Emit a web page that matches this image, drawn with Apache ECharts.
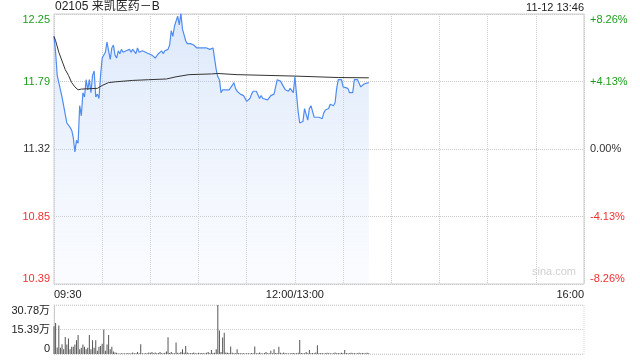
<!DOCTYPE html>
<html><head><meta charset="utf-8">
<script src="https://cdn.jsdelivr.net/npm/echarts@6/dist/echarts.min.js"></script>
<style>html,body{margin:0;padding:0;background:#fff}#c{width:640px;height:360px}</style>
</head><body><div id="c"></div>
<script>
var titleText = '02105 来凯医药－B';
var timeText = '11-12 13:46';
var prevClose = 11.32;
var pctRange = 8.26;
var priceTicks = ['12.25', '11.79', '11.32', '10.85', '10.39'];
var pctTicks = ['+8.26%', '+4.13%', '0.00%', '-4.13%', '-8.26%'];
var tickColors = ['#1e9e1e', '#1e9e1e', '#333333', '#f03030', '#f03030'];
var timeLabels = {0: '09:30', 150: '12:00/13:00', 330: '16:00'};
var volTicks = ['0', '15.39万', '30.78万'];
var volMax = 30.78;

var priceMin = [0,1,2,3,4,5,6,7,8,9,10,11,12,13,14,15,16,17,18,19,20,21,22,23,24,25,26,27,28,29,30,31,32,33,34,35,36,37,38,39,40,41,42,43,44,45,46,47,48,49,50,51,52,53,55,57,59,61,62,63,64,65,66,67,68,69,71,72,73,74,75,76,77,78,79,80,81,82,83,85,87,89,91,93,95,97,99,100,101,102,103,104,105,106,107,108,109,110,111,112,113,114,115,116,118,119,120,121,122,123,124,126,127,128,129,130,131,133,134,135,137,138,139,140,141,142,143,144,145,146,147,148,149,150,151,152,153,154,155,156,157,158,159,160,161,162,163,165,167,168,169,170,171,172,174,175,176,177,178,179,180,181,183,184,186,187,189,190,191,192,193,194,196];
var priceVal = [12.10,11.99,11.83,11.78,11.73,11.68,11.62,11.56,11.50,11.49,11.47,11.45,11.40,11.30,11.38,11.36,11.62,11.55,11.71,11.68,11.80,11.73,11.80,11.71,11.83,11.86,11.68,11.70,11.67,11.83,11.95,11.94,11.99,12.06,12.00,11.94,12.02,12.04,11.97,11.95,12.00,11.98,12.01,11.99,12.00,12.00,12.00,12.01,11.99,12.01,12.00,11.98,12.02,11.99,12.00,11.99,11.98,11.97,11.96,11.95,11.96,11.98,11.98,12.00,11.98,12.00,12.01,12.04,12.14,12.10,12.17,12.18,12.24,12.18,12.26,12.15,12.11,12.07,12.05,12.05,12.04,12.02,12.02,12.02,12.02,12.01,12.02,12.02,11.87,11.82,11.80,11.71,11.73,11.72,11.73,11.72,11.73,11.72,11.76,11.78,11.74,11.72,11.71,11.70,11.69,11.68,11.65,11.66,11.67,11.70,11.72,11.72,11.72,11.67,11.69,11.67,11.66,11.66,11.65,11.69,11.70,11.71,11.80,11.80,11.79,11.79,11.75,11.73,11.74,11.72,11.74,11.75,11.71,11.82,11.70,11.58,11.50,11.50,11.51,11.60,11.61,11.52,11.60,11.62,11.61,11.54,11.53,11.54,11.53,11.57,11.59,11.59,11.60,11.63,11.62,11.64,11.74,11.80,11.81,11.80,11.75,11.75,11.74,11.71,11.71,11.80,11.80,11.79,11.75,11.75,11.77,11.77,11.78];

var avgMin = [0,1,3,5,7,9,11,13,15,17,27,30,34,38,49,59,70,76,84,98,102,114,150,177,196];
var avgVal = [12.10,12.07,11.99,11.93,11.87,11.83,11.78,11.75,11.73,11.735,11.74,11.76,11.78,11.785,11.795,11.80,11.805,11.82,11.835,11.84,11.843,11.835,11.825,11.815,11.813];

var volVal = [17.4,19.5,4.1,17.9,4,6.2,3,10.7,6,9.8,3,4.5,4.5,6,8.6,11.9,3,4,6,4.5,3,4,11.9,3,8.6,4,8.6,2,4.5,5,6.5,15.4,2,6,11.9,3,4.5,1.5,1,0.8,0.3,0.3,0.5,0.3,0.4,0.3,0.6,0.3,0.5,1,0.4,0.5,1.2,0.4,6.2,0.5,0.3,0.5,0.4,1,0.8,1.2,0.5,1,0.4,0.6,1.2,0.4,0.5,0.8,1.5,10.5,0.6,1.2,0.5,0.4,7.2,0.8,0.5,1.2,3,0.8,5,1,0.5,0.4,0.6,1,0.4,0.5,0.8,0.4,0.6,0.5,0.4,0.8,1.2,0.5,2.5,0.6,0.8,3,30.78,14.8,1.2,10.3,13.3,1,0.8,0.6,4.7,0.8,0.5,0.4,3,0.6,0.5,0.4,0.5,0.3,0.4,0.5,0.3,0.6,0.4,4.7,0.5,0.4,1,0.5,0.3,0.6,1.2,0.4,0.5,2,0.5,3,0.6,0.4,4.5,0.8,0.4,1,0.5,0.4,0.3,0.5,0.4,0.6,0.5,0.4,0.8,8.8,0.6,0.4,0.5,1.2,0.4,2.5,0.5,0.6,0.4,1,5.5,0.5,0.4,0.6,0.3,0.5,0.8,0.4,0.5,0.3,0.4,1,0.5,0.6,0.4,0.8,0.5,2.5,0.6,0.4,0.5,0.8,0.4,0.6,0.3,0.5,0.8,0.4,0.6,0.5,0.4,0.8,0.5];

var pMax = prevClose * (1 + pctRange / 100);
var pMin = prevClose * (1 - pctRange / 100);
var pInt = (pMax - pMin) / 4;

function zip(a, b) { return a.map(function (v, i) { return [v, b[i]]; }); }
var volData = volVal.map(function (v, i) { return [i, v]; });

var FONT = '"Liberation Sans", Arial, "Noto Sans CJK SC", sans-serif';
var chart = echarts.init(document.getElementById('c'), null, {renderer: 'canvas'});
chart.setOption({
  animation: false,
  textStyle: {fontFamily: FONT},
  graphic: [
    {type: 'text', left: 55, top: 1, style: {text: titleText, font: '12px ' + FONT, fill: '#222'}},
    {type: 'text', right: 56, top: 2, style: {text: timeText, font: '11px ' + FONT, fill: '#222'}},
    {type: 'text', left: 532, top: 266, style: {text: 'sina.com', font: '11px ' + FONT, fill: '#d0d0d0'}}
  ],
  grid: [
    {left: 54, right: 56, top: 14, height: 270, show: true, borderColor: '#cccccc', borderWidth: 1},
    {left: 54, right: 56, top: 305, height: 49, show: true, borderColor: '#d6d6d6', borderWidth: 1, borderType: 'dotted'}
  ],
  xAxis: [
    {type: 'value', gridIndex: 0, min: 0, max: 330, interval: 30,
     axisLine: {show: false}, axisTick: {show: false},
     splitLine: {show: true, lineStyle: {color: '#cccccc', type: 'dotted'}},
     axisLabel: {show: true, color: '#222', fontSize: 11, margin: 5, alignMinLabel: 'left', alignMaxLabel: 'right',
       formatter: function (v) { return timeLabels[v] || ''; }}},
    {type: 'value', gridIndex: 1, min: 0, max: 330, interval: 30,
     axisLine: {show: false}, axisTick: {show: false}, axisLabel: {show: false},
     splitLine: {show: false}}
  ],
  yAxis: [
    {type: 'value', gridIndex: 0, min: pMin, max: pMax, interval: pInt, position: 'left',
     axisLine: {show: false}, axisTick: {show: false},
     splitLine: {show: true, lineStyle: {color: '#c8c8c8', type: 'dotted'}},
     axisLabel: {fontSize: 11, margin: 4, verticalAlignMinLabel: 'bottom', verticalAlignMaxLabel: 'top',
       formatter: function (v) { var i = Math.round((pMax - v) / pInt); return '{c' + i + '|' + priceTicks[i] + '}'; },
       rich: {c0: {color: tickColors[0], fontSize: 11}, c1: {color: tickColors[1], fontSize: 11}, c2: {color: tickColors[2], fontSize: 11}, c3: {color: tickColors[3], fontSize: 11}, c4: {color: tickColors[4], fontSize: 11}}}},
    {type: 'value', gridIndex: 0, min: -pctRange, max: pctRange, interval: pctRange / 2, position: 'right',
     axisLine: {show: false}, axisTick: {show: false}, splitLine: {show: false},
     axisLabel: {fontSize: 11, margin: 6, verticalAlignMinLabel: 'bottom', verticalAlignMaxLabel: 'top',
       formatter: function (v) { var i = Math.round((pctRange - v) / (pctRange / 2)); return '{c' + i + '|' + pctTicks[i] + '}'; },
       rich: {c0: {color: tickColors[0], fontSize: 11}, c1: {color: tickColors[1], fontSize: 11}, c2: {color: tickColors[2], fontSize: 11}, c3: {color: tickColors[3], fontSize: 11}, c4: {color: tickColors[4], fontSize: 11}}}},
    {type: 'value', gridIndex: 1, min: 0, max: volMax, interval: volMax / 2,
     axisLine: {show: true, lineStyle: {color: '#cccccc'}}, axisTick: {show: false},
     splitLine: {show: true, lineStyle: {color: '#d0d0d0', type: 'dotted'}},
     axisLabel: {fontSize: 11, color: '#222', margin: 4, verticalAlignMinLabel: 'bottom', verticalAlignMaxLabel: 'top',
       formatter: function (v) { return volTicks[Math.round(v / (volMax / 2))]; }}}
  ],
  series: [
    {type: 'line', xAxisIndex: 0, yAxisIndex: 0, data: zip(priceMin, priceVal), showSymbol: false,
     lineStyle: {color: '#4f8cf0', width: 1.2},
     areaStyle: {origin: 'start', color: new echarts.graphic.LinearGradient(0, 0, 0, 1, [
       {offset: 0, color: 'rgba(170,200,245,0.6)'}, {offset: 1, color: 'rgba(225,235,252,0.25)'}])},
     z: 3},
    {type: 'line', xAxisIndex: 0, yAxisIndex: 0, data: zip(avgMin, avgVal), showSymbol: false,
     lineStyle: {color: '#333333', width: 1}, z: 4},
    {type: 'bar', xAxisIndex: 1, yAxisIndex: 2, data: volData, barWidth: 1,
     itemStyle: {color: '#555555'}}
  ]
});
</script>
</body></html>
